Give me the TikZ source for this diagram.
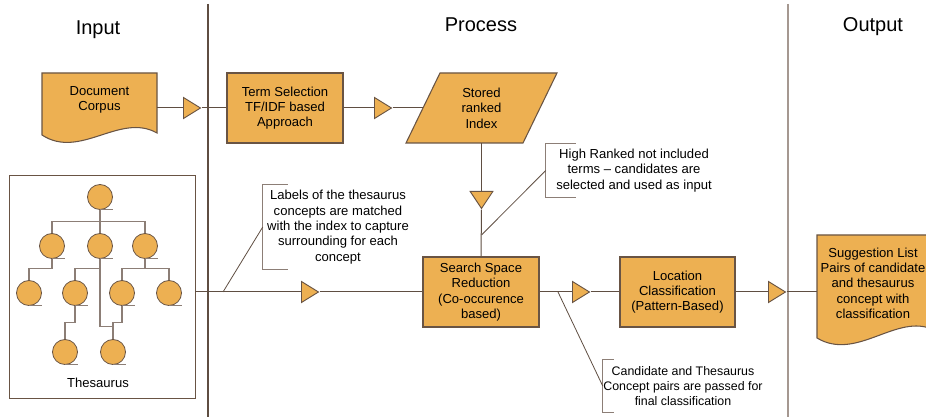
\documentclass[tikz,border=0pt]{standalone}
\usepackage{fontspec}
\setmainfont{Liberation Sans}
\usetikzlibrary{shapes.geometric}
\definecolor{boxfill}{RGB}{237,176,82}
\definecolor{boxline}{RGB}{105,84,68}
\definecolor{laneline}{RGB}{95,78,66}
\definecolor{lanegray}{RGB}{165,152,145}
\definecolor{treeline}{RGB}{140,126,118}
\tikzset{
  txt/.style={font=\fontsize{9.8}{11.5}\selectfont, align=center, text=black},
  smalltxt/.style={font=\fontsize{9.3}{11.3}\selectfont, align=center, text=black},
  title/.style={font=\fontsize{15}{17}\selectfont, text=black},
  procbox/.style={txt, rectangle, draw=boxline, fill=boxfill, line width=0.8pt, inner sep=0pt},
  plain/.style={txt, inner sep=0pt},
  shapefill/.style={draw=boxline, fill=boxfill, line width=0.8pt},
  tri/.style={isosceles triangle, isosceles triangle stretches, draw=boxline, fill=boxfill,
    line width=0.7pt, inner sep=0pt, minimum width=15.75pt, minimum height=12.75pt},
  conn/.style={draw=laneline, line width=0.75pt},
  leader/.style={draw=laneline, line width=0.6pt},
  bracket/.style={draw=treeline, line width=0.8pt},
  tnode/.style={circle, draw=boxline, fill=boxfill, line width=0.6pt, minimum size=18.75pt, inner sep=0pt},
  tline/.style={draw=treeline, line width=0.8pt},
  tail/.style={draw=treeline, line width=0.6pt}
}
\begin{document}
\begin{tikzpicture}[x=0.75pt,y=-0.75pt]
\useasboundingbox (0,0) rectangle (926,417);
% swimlanes
\draw[laneline, line width=0.8pt] (208,4) -- (208,417);
\draw[lanegray, line width=1pt] (788,4) -- (788,417);
\node[title] (tin) at (98,30) {Input};
\node[title] (tpr) at (481,25) {Process};
\node[title] (tout) at (873,27) {Output};

% document corpus
\path[shapefill] (42,73) -- (157,73) -- (157,133) .. controls (120,112) and (80,160) .. (42,135) -- cycle;
\node[plain, minimum width=86.25pt] (doc) at (99.5,100) {Document\\Corpus};

% term selection
\node[procbox, minimum width=87pt, minimum height=52.5pt] (term) at (285,108) {Term Selection\\TF/IDF based\\Approach};

% stored ranked index
\path[shapefill] (406,143) -- (440,73) -- (557,73) -- (523,143) -- cycle;
\node[plain, minimum width=87.75pt, minimum height=52.5pt] (idx) at (481.5,108) {Stored\\ranked\\Index};

% search space reduction
\node[procbox, minimum width=87pt, minimum height=52.5pt] (srch) at (481,292) {Search Space\\Reduction\\(Co-occurence\\based)};

% location classification
\node[procbox, minimum width=86.25pt, minimum height=52.5pt] (loc) at (677.5,292) {Location\\Classification\\(Pattern-Based)};

% suggestion list
\begin{scope}
\clip (0,0) rectangle (926,417);
\path[shapefill] (817,235) -- (934,235) -- (934,330) .. controls (897,312) and (857,362) .. (817,338) -- cycle;
\end{scope}
\node[plain, minimum width=84pt] (sug) at (873,283) {Suggestion List\\Pairs of candidate\\and thesaurus\\concept with\\classification};

% thesaurus box
\node[rectangle, draw=boxline, line width=0.6pt, minimum width=139.5pt, minimum height=167.25pt, inner sep=0pt] (thes) at (102,286.5) {};
\node[plain] (theslab) at (98,383) {Thesaurus};

% tree
\node[tnode] (r) at (100,197) {};
\node[tnode] (a1) at (52,246) {};
\node[tnode] (a2) at (100,246) {};
\node[tnode] (a3) at (145,246) {};
\node[tnode] (b1) at (29,293) {};
\node[tnode] (b2) at (75,293) {};
\node[tnode] (b3) at (122,293) {};
\node[tnode] (b4) at (169,293) {};
\node[tnode] (d1) at (65,352) {};
\node[tnode] (d2) at (113,352) {};
\draw[tline] (r.south) -- ++(0,12) -| (a1.north);
\draw[tline] (r.south) -- ++(0,12) -| (a3.north);
\draw[tline] (r.south) -- (a2.north);
\draw[tline] (a1.south) -- ++(0,9.5) -| (b1.north);
\draw[tline] (a2.south) -- ++(0,9.5) -| (b2.north);
\draw[tline] (a2.south) -- ++(0,68) -| (d2.north);
\draw[tline] (a3.south) -- ++(0,9.5) -| (b3.north);
\draw[tline] (a3.south) -- ++(0,9.5) -| (b4.north);
\draw[tline] (b3.south) -- ++(0,16.5) -| (d2.north);
\draw[tline] (b2.south) -- ++(0,16.5) -| (d1.north);
\foreach \n in {r,a1,a2,a3,b1,b2,b3,b4,d1,d2}{
  \draw[tail] (\n.south) -- ++(13,0);
}

% triangles
\node[tri, anchor=lower side] (t1) at (183,108) {};
\node[tri, anchor=lower side] (t2) at (374,108) {};
\node[tri, anchor=lower side, rotate=-90, minimum width=17pt, minimum height=12.75pt] (tdn) at (481.5,191) {};
\node[tri, anchor=lower side] (t3) at (301,292) {};
\node[tri, anchor=lower side] (t4) at (572,292) {};
\node[tri, anchor=lower side] (t5) at (768,292) {};

% connectors
\draw[conn] (doc.east |- t1.lower side) -- (t1.lower side);
\draw[conn] (t1.apex) -- (term.west);
\draw[conn] (term.east) -- (t2.lower side);
\draw[conn] (t2.apex) -- (idx.west);
\draw[conn] (idx.south) -- (tdn.lower side);
\draw[conn] (tdn.apex) -- (srch.north);
\draw[conn] (thes.east |- t3.lower side) -- (t3.lower side);
\draw[conn] (t3.apex) -- (srch.west);
\draw[conn] (srch.east) -- (t4.lower side);
\draw[conn] (t4.apex) -- (loc.west);
\draw[conn] (loc.east) -- (t5.lower side);
\draw[conn] (t5.apex) -- (t5.apex -| sug.west);

% callouts
\node[plain, minimum width=112.5pt, minimum height=63pt] (c1) at (338,227) {Labels of the thesaurus\\concepts are matched\\with the index to capture\\surrounding for each\\concept};
\draw[bracket] ([xshift=18.75pt]c1.north west) -- (c1.north west) -- (c1.south west) -- ++(25,0);
\coordinate (j1) at (223,292);
\draw[leader] (c1.west) -- (j1);

\node[plain, minimum width=132pt, minimum height=39.75pt] (c2) at (634,170.5) {High Ranked not included\\terms -- candidates are\\selected and used as input};
\draw[bracket] ([xshift=22.5pt]c2.north west) -- (c2.north west) -- (c2.south west) -- ++(30,0);
\coordinate (j2) at (481.5,235);
\draw[leader] (c2.west) -- (j2);

\node[plain, smalltxt, minimum width=120pt, minimum height=39pt] (c3) at (683,386) {Candidate and Thesaurus\\Concept pairs are passed for\\final classification};
\draw[bracket] ([xshift=8.25pt]c3.north west) -- (c3.north west) -- (c3.south west) -- ++(11,0);
\coordinate (j3) at (558,292);
\draw[leader] (c3.west) -- (j3);
\end{tikzpicture}
\end{document}
